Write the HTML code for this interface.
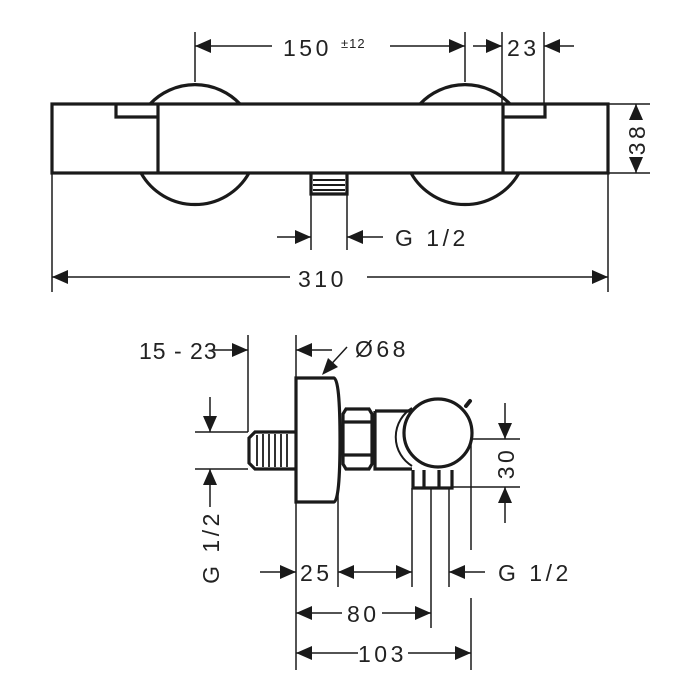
<!DOCTYPE html>
<html><head><meta charset="utf-8"><style>
html,body{margin:0;padding:0;background:#fff;}
svg{display:block;}
text{font-family:"Liberation Sans",sans-serif;font-size:23px;fill:#222;letter-spacing:3.5px;}
</style></head><body>
<svg width="700" height="700" viewBox="0 0 700 700" xmlns="http://www.w3.org/2000/svg">
<g fill="none" stroke="#1a1a1a" stroke-width="3.2">
  <path d="M150 104 A62 62 0 0 1 240 104"/>
  <path d="M141 173 A62 62 0 0 0 249 173"/>
  <path d="M420 104 A62 62 0 0 1 510 104"/>
  <path d="M411 173 A62 62 0 0 0 519 173"/>
  <rect x="52" y="104" width="556" height="69"/>
  <line x1="158" y1="104" x2="158" y2="173"/>
  <line x1="503" y1="104" x2="503" y2="173"/>
  <path d="M116 104 L116 117 L158 117"/>
  <path d="M545 104 L545 117 L503 117"/>
  <path d="M311 173 L311 194 L347 194 L347 173" />
</g>
<g stroke="#1a1a1a" stroke-width="2">
  <line x1="313" y1="180" x2="345" y2="180"/>
  <line x1="313" y1="185" x2="345" y2="185"/>
  <line x1="313" y1="190" x2="345" y2="190"/>
</g>
<g stroke="#1a1a1a" stroke-width="1.5" fill="none">
  <line x1="195" y1="32" x2="195" y2="82"/>
  <line x1="465" y1="32" x2="465" y2="82"/>
  <line x1="195" y1="46" x2="272" y2="46"/>
  <line x1="390" y1="46" x2="465" y2="46"/>
  <line x1="502" y1="32" x2="502" y2="104"/>
  <line x1="544" y1="32" x2="544" y2="104"/>
  <line x1="473" y1="46" x2="502" y2="46"/>
  <line x1="544" y1="46" x2="574" y2="46"/>
  <line x1="608" y1="104" x2="650" y2="104"/>
  <line x1="608" y1="173" x2="650" y2="173"/>
  <line x1="636" y1="104" x2="636" y2="118"/>
  <line x1="636" y1="160" x2="636" y2="173"/>
  <line x1="311" y1="194" x2="311" y2="250"/>
  <line x1="347" y1="194" x2="347" y2="250"/>
  <line x1="277" y1="237" x2="311" y2="237"/>
  <line x1="347" y1="237" x2="383" y2="237"/>
  <line x1="52" y1="173" x2="52" y2="292"/>
  <line x1="608" y1="173" x2="608" y2="292"/>
  <line x1="52" y1="277" x2="290" y2="277"/>
  <line x1="367" y1="277" x2="608" y2="277"/>
</g>
<g fill="#1a1a1a">
  <polygon points="195,46 211,39 211,53"/>
  <polygon points="465,46 449,39 449,53"/>
  <polygon points="502,46 486,39 486,53"/>
  <polygon points="544,46 560,39 560,53"/>
  <polygon points="636,104 629,120 643,120"/>
  <polygon points="636,173 629,157 643,157"/>
  <polygon points="311,237 295,230 295,244"/>
  <polygon points="347,237 363,230 363,244"/>
  <polygon points="52,277 68,270 68,284"/>
  <polygon points="608,277 592,270 592,284"/>
</g>
<text x="283" y="56">150</text>
<text x="341" y="48" style="font-size:13px;letter-spacing:1px">±12</text>
<text x="507" y="56">23</text>
<text transform="translate(645,139) rotate(-90)" text-anchor="middle">38</text>
<text x="395" y="246">G 1/2</text>
<text x="298" y="287">310</text>

<g fill="none" stroke="#1a1a1a" stroke-width="3.2">
  <path d="M296 378 L334 378 Q340 380 340 440 Q340 500 334 502 L296 502 Z"/>
  <path d="M296 432 L255 432 L249 438 L249 463 L255 469 L296 469"/>
  <path d="M343 414 L346 409 L369 409 L372 414 L372 464 L369 469 L346 469 L343 464 Z"/>
  <line x1="343" y1="422" x2="372" y2="422"/>
  <line x1="343" y1="455" x2="372" y2="455"/>
  <path d="M375 411 L412 411 M375 411 L375 469 L412 469"/>
  <circle cx="438" cy="433" r="34"/>
  <path d="M412 408 A34 34 0 0 0 412 466" stroke-width="2"/>
  <path d="M413 470 L413 488 L452 488 L452 470"/>
  <line x1="424" y1="470" x2="424" y2="488"/>
  <line x1="439" y1="470" x2="439" y2="488"/>
  <line x1="466" y1="406" x2="470" y2="401" stroke-width="4" stroke-linecap="round"/>
</g>
<g stroke="#1a1a1a" stroke-width="1.8">
  <line x1="257" y1="435" x2="257" y2="466"/>
  <line x1="263" y1="434" x2="263" y2="467"/>
  <line x1="269" y1="434" x2="269" y2="467"/>
  <line x1="275" y1="434" x2="275" y2="467"/>
  <line x1="281" y1="434" x2="281" y2="467"/>
  <line x1="287" y1="434" x2="287" y2="467"/>
</g>
<g stroke="#1a1a1a" stroke-width="1.5" fill="none">
  <line x1="212" y1="350" x2="248" y2="350"/>
  <line x1="248" y1="335" x2="248" y2="432"/>
  <line x1="296" y1="335" x2="296" y2="670"/>
  <line x1="296" y1="350" x2="332" y2="350"/>
  <line x1="347" y1="347" x2="325" y2="371"/>
  <line x1="195" y1="432" x2="248" y2="432"/>
  <line x1="195" y1="469" x2="248" y2="469"/>
  <line x1="210" y1="397" x2="210" y2="432"/>
  <line x1="210" y1="469" x2="210" y2="507"/>
  <line x1="473" y1="439" x2="520" y2="439"/>
  <line x1="452" y1="487" x2="520" y2="487"/>
  <line x1="505" y1="403" x2="505" y2="439"/>
  <line x1="505" y1="487" x2="505" y2="523"/>
  <line x1="471" y1="440" x2="471" y2="550"/>
  <line x1="471" y1="598" x2="471" y2="670"/>
  <line x1="338" y1="490" x2="338" y2="587"/>
  <line x1="412" y1="488" x2="412" y2="587"/>
  <line x1="449" y1="488" x2="449" y2="587"/>
  <line x1="431" y1="488" x2="431" y2="628"/>
  <line x1="260" y1="572" x2="296" y2="572"/>
  <line x1="338" y1="572" x2="412" y2="572"/>
  <line x1="449" y1="572" x2="485" y2="572"/>
  <line x1="296" y1="613" x2="342" y2="613"/>
  <line x1="382" y1="613" x2="431" y2="613"/>
  <line x1="296" y1="653" x2="358" y2="653"/>
  <line x1="408" y1="653" x2="471" y2="653"/>
</g>
<g fill="#1a1a1a">
  <polygon points="248,350 232,343 232,357"/>
  <polygon points="296,350 312,343 312,357"/>
  <polygon points="322,375 328,358 338,367"/>
  <polygon points="210,432 203,416 217,416"/>
  <polygon points="210,469 203,485 217,485"/>
  <polygon points="505,439 498,423 512,423"/>
  <polygon points="505,487 498,503 512,503"/>
  <polygon points="296,572 280,565 280,579"/>
  <polygon points="338,572 354,565 354,579"/>
  <polygon points="412,572 396,565 396,579"/>
  <polygon points="449,572 465,565 465,579"/>
  <polygon points="296,613 312,606 312,620"/>
  <polygon points="431,613 415,606 415,620"/>
  <polygon points="296,653 312,646 312,660"/>
  <polygon points="471,653 455,646 455,660"/>
</g>
<text x="139" y="359" style="letter-spacing:1px">15 - 23</text>
<text x="355" y="357">Ø68</text>
<text transform="translate(219,547) rotate(-90)" text-anchor="middle">G 1/2</text>
<text transform="translate(514,463) rotate(-90)" text-anchor="middle">30</text>
<text x="300" y="581">25</text>
<text x="498" y="581">G 1/2</text>
<text x="347" y="622">80</text>
<text x="358" y="662">103</text>
</svg>
</body></html>
